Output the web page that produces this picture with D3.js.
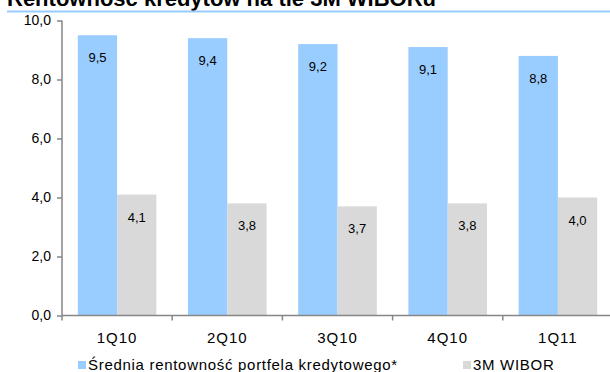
<!DOCTYPE html>
<html>
<head>
<meta charset="utf-8">
<script src="https://cdn.jsdelivr.net/npm/d3@7"></script>
<style>
  html, body { margin: 0; padding: 0; background: #fff; }
  svg { display: block; font-family: Arial, "Liberation Sans", sans-serif; }
</style>
</head>
<body>
<svg id="chart" width="610" height="372"></svg>
<script>
const titleText = "Rentowność kredytów na tle 3M WIBORu";
const categories = ["1Q10", "2Q10", "3Q10", "4Q10", "1Q11"];
const seriesNames = ["Średnia rentowność portfela kredytowego*", "3M WIBOR"];
const loanYield = [9.5, 9.4, 9.2, 9.1, 8.8];
const wibor3m = [4.1, 3.8, 3.7, 3.8, 4.0];
const yTicks = [0, 2, 4, 6, 8, 10];
const colors = ["#99ccff", "#d9d9d9"];

const series = [loanYield, wibor3m];
const fmt = v => d3.format(".1f")(v).replace(".", ",");

const svg = d3.select("#chart");

// Title band (title runs past the top edge of the frame)
svg.append("text")
  .attr("x", 7).attr("y", 6)
  .attr("font-size", 22).attr("font-weight", "bold").attr("fill", "#000")
  .text(titleText);
svg.append("line")
  .attr("x1", 7).attr("x2", 610).attr("y1", 11.5).attr("y2", 11.5)
  .attr("stroke", "#99ccff").attr("stroke-width", 2);

const x0 = d3.scaleBand().domain(categories).range([62, 613]).paddingInner(0).paddingOuter(0);
const x1 = d3.scaleBand().domain(d3.range(series.length)).range([15.8, x0.bandwidth() - 15.8]);
const y = d3.scaleLinear().domain([0, 10]).range([315.5, 20.5]);

// Bars with value labels inside the top
series.forEach((vals, si) => {
  const g = svg.append("g");
  g.selectAll("rect").data(vals).join("rect")
    .attr("x", (d, i) => x0(categories[i]) + x1(si))
    .attr("y", d => y(d))
    .attr("width", x1.bandwidth())
    .attr("height", d => y(0) - y(d))
    .attr("fill", colors[si]);
  g.selectAll("text").data(vals).join("text")
    .attr("x", (d, i) => x0(categories[i]) + x1(si) + x1.bandwidth() / 2)
    .attr("y", d => y(d) + 27)
    .attr("text-anchor", "middle")
    .attr("font-size", 13).attr("fill", "#000")
    .text(d => fmt(d));
});

// Y axis
const yAxis = svg.append("g").attr("transform", "translate(62,0)")
  .call(d3.axisLeft(y).tickValues(yTicks).tickSize(5).tickPadding(6).tickFormat(fmt));
yAxis.select(".domain").attr("stroke", "#868686").attr("stroke-width", 1.5)
  .attr("d", `M0,${y(10)}V${y(0)}`);
yAxis.selectAll(".tick line").attr("stroke", "#868686").attr("stroke-width", 1.5);
yAxis.selectAll(".tick text").attr("font-size", 14).attr("fill", "#000")
  .attr("font-family", "Arial, 'Liberation Sans', sans-serif");

// X axis with ticks at category boundaries
const xAxisG = svg.append("g").attr("transform", `translate(0,${y(0)})`);
xAxisG.append("line").attr("x1", 62).attr("x2", 613).attr("y1", 0).attr("y2", 0)
  .attr("stroke", "#868686").attr("stroke-width", 1.5);
xAxisG.selectAll("line.tk").data(categories).join("line").attr("class", "tk")
  .attr("x1", d => x0(d)).attr("x2", d => x0(d)).attr("y1", 0).attr("y2", 5)
  .attr("stroke", "#868686").attr("stroke-width", 1.5);
xAxisG.selectAll("text").data(categories).join("text")
  .attr("x", d => x0(d) + x0.bandwidth() / 2)
  .attr("y", 27)
  .attr("text-anchor", "middle")
  .attr("font-size", 15).attr("letter-spacing", 1).attr("fill", "#000")
  .text(d => d);

// Legend
const legendX = [78, 463];
seriesNames.forEach((name, i) => {
  svg.append("rect").attr("x", legendX[i]).attr("y", 361).attr("width", 8).attr("height", 8)
    .attr("fill", colors[i]);
  svg.append("text").attr("x", legendX[i] + 10).attr("y", 369.5)
    .attr("font-size", 15).attr("letter-spacing", 0.7).attr("fill", "#000").text(name);
});
</script>
</body>
</html>
